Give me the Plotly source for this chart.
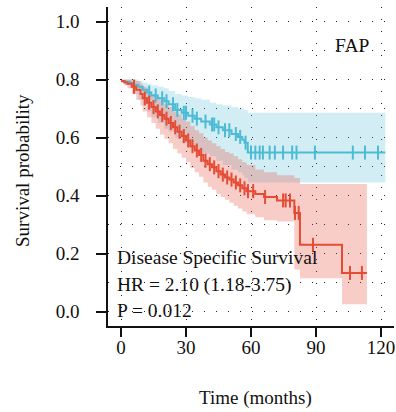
import numpy as np
import plotly.graph_objects as go

# ---------------- data ----------------
blue_time = [0, 2, 4, 6, 8, 10, 12, 14, 17, 20, 22, 25, 28, 31, 34, 37, 41, 44, 47, 51, 54, 56, 57, 58.5, 122]
blue_surv = [0.795, 0.792, 0.788, 0.782, 0.775, 0.765, 0.755, 0.745, 0.735, 0.725, 0.715, 0.695, 0.685, 0.675,
             0.665, 0.655, 0.645, 0.635, 0.625, 0.612, 0.602, 0.592, 0.582, 0.548, 0.548]
blue_upper = [0.80, 0.80, 0.80, 0.80, 0.795, 0.79, 0.785, 0.78, 0.775, 0.77, 0.76, 0.75, 0.745, 0.74,
              0.735, 0.73, 0.72, 0.715, 0.71, 0.705, 0.70, 0.70, 0.695, 0.685, 0.685]
blue_lower = [0.79, 0.78, 0.77, 0.75, 0.73, 0.71, 0.69, 0.67, 0.65, 0.63, 0.62, 0.60, 0.58, 0.565,
              0.555, 0.545, 0.535, 0.52, 0.505, 0.49, 0.48, 0.47, 0.46, 0.445, 0.445]
blue_censor = [13, 16, 19, 21, 24, 26, 29, 30, 33, 35, 39, 42, 43, 45, 48, 50, 53, 55, 57.5, 60, 62, 64,
               65.5, 68.6, 71, 74.8, 79, 81, 89.5, 107, 112.6, 118.6]

red_time = [0, 1.5, 3, 5, 7, 9, 10, 12, 14, 16, 18, 20, 22, 24, 26, 28, 30, 32, 34, 36, 38, 40, 42, 44, 46,
            48, 50, 52, 54, 56, 58, 62, 66, 72, 80, 82.6, 102, 113.5]
red_surv = [0.795, 0.79, 0.785, 0.775, 0.765, 0.75, 0.735, 0.72, 0.705, 0.69, 0.678, 0.665, 0.65, 0.635,
            0.62, 0.605, 0.59, 0.57, 0.555, 0.54, 0.52, 0.508, 0.497, 0.484, 0.472, 0.462, 0.455, 0.445,
            0.435, 0.425, 0.415, 0.405, 0.395, 0.383, 0.34, 0.23, 0.133, 0.133]
red_upper = [0.80, 0.80, 0.80, 0.80, 0.795, 0.785, 0.775, 0.76, 0.75, 0.74, 0.73, 0.715, 0.705, 0.69,
             0.68, 0.665, 0.655, 0.64, 0.625, 0.615, 0.60, 0.59, 0.58, 0.57, 0.56, 0.55, 0.545, 0.535,
             0.525, 0.515, 0.505, 0.49, 0.48, 0.47, 0.46, 0.44, 0.44, 0.44]
red_lower = [0.79, 0.78, 0.77, 0.75, 0.73, 0.71, 0.69, 0.67, 0.65, 0.63, 0.61, 0.595, 0.58, 0.56, 0.545,
             0.53, 0.515, 0.495, 0.48, 0.465, 0.445, 0.43, 0.42, 0.405, 0.395, 0.385, 0.375, 0.365,
             0.355, 0.345, 0.335, 0.325, 0.315, 0.31, 0.145, 0.115, 0.025, 0.025]
red_censor = [6, 11, 13, 15, 17, 19, 21, 23, 25, 27, 29, 31, 33, 35, 37, 39, 41, 43, 45, 47, 49, 51, 53,
              55, 57, 58.6, 61, 66.5, 74.8, 76, 78, 80.3, 82, 88.6, 105.7, 111.2]

x_ticks = [0, 30, 60, 90, 120]
y_ticks = [0.0, 0.2, 0.4, 0.6, 0.8, 1.0]
y_tick_text = ["0.0", "0.2", "0.4", "0.6", "0.8", "1.0"]

BLUE = "#4DBBD5"
RED = "#E64B35"
FONT = "Liberation Serif"


def step_value(times, surv, t):
    idx = np.searchsorted(np.asarray(times), t, side="right") - 1
    return np.asarray(surv)[np.clip(idx, 0, len(surv) - 1)]


fig = go.Figure()


def add_band(times, upper, lower, fill):
    fig.add_trace(go.Scatter(x=times, y=upper, mode="lines", line=dict(width=0, shape="hv"),
                             hoverinfo="skip", showlegend=False))
    fig.add_trace(go.Scatter(x=times, y=lower, mode="lines", line=dict(width=0, shape="hv"),
                             fill="tonexty", fillcolor=fill, hoverinfo="skip", showlegend=False))


add_band(blue_time, blue_upper, blue_lower, "rgba(77,187,213,0.25)")
add_band(red_time, red_upper, red_lower, "rgba(230,75,53,0.28)")

for times, surv, censor, color in [(blue_time, blue_surv, blue_censor, BLUE),
                                   (red_time, red_surv, red_censor, RED)]:
    fig.add_trace(go.Scatter(x=times, y=surv, mode="lines", line=dict(color=color, width=2, shape="hv"),
                             showlegend=False))
    fig.add_trace(go.Scatter(x=censor, y=step_value(times, surv, censor), mode="markers",
                             marker=dict(symbol="line-ns", size=10, line=dict(color=color, width=2)),
                             showlegend=False))

ann_font = dict(family=FONT, size=19.5, color="#111")
fig.add_annotation(x=106.6, y=0.917, text="FAP", showarrow=False, font=ann_font)
fig.add_annotation(x=-2.6, y=0.186, text="Disease Specific Survival", showarrow=False,
                   xanchor="left", font=ann_font)
fig.add_annotation(x=-2.6, y=0.093, text="HR = 2.10 (1.18-3.75)", showarrow=False,
                   xanchor="left", font=ann_font)
fig.add_annotation(x=-2.6, y=0.003, text="P = 0.012", showarrow=False,
                   xanchor="left", font=ann_font)

# axis titles
title_font = dict(family=FONT, size=19, color="#111")
fig.add_annotation(xref="paper", yref="paper", x=-0.3007, y=0.489, text="Survival probability",
                   textangle=-90, showarrow=False, xanchor="center", yanchor="middle", font=title_font)
fig.add_annotation(xref="paper", yref="paper", x=0.514, y=-0.2257, text="Time (months)",
                   showarrow=False, xanchor="center", yanchor="middle", font=title_font)

grid = dict(gridcolor="#222", gridwidth=1, griddash="1px,11px")
fig.update_layout(
    width=396, height=412,
    margin=dict(l=108, r=2, t=7, b=86),
    paper_bgcolor="white", plot_bgcolor="white",
    font=dict(family=FONT, size=19, color="#111"),
    xaxis=dict(range=[-6, 126], tickvals=x_ticks, showline=True, linecolor="#111", linewidth=1.5,
               ticks="outside", ticklen=9, tickwidth=2, tickcolor="#111", zeroline=False,
               automargin=False, ticklabelstandoff=-6, showgrid=True, **grid),
    yaxis=dict(range=[-0.05, 1.05], tickvals=y_ticks, ticktext=y_tick_text, showline=True,
               linecolor="#111", linewidth=1.5, ticks="outside", ticklen=10, tickwidth=2,
               tickcolor="#111", zeroline=False, automargin=False, ticklabelstandoff=13,
               showgrid=True, **grid,
               minor=dict(dtick=0.1, tick0=0, showgrid=True, gridcolor="#222", gridwidth=1,
                          griddash="1px,11px")),
)

fig.write_html("out.html", config={"displayModeBar": False},
               post_script="document.body.style.margin='0';")
